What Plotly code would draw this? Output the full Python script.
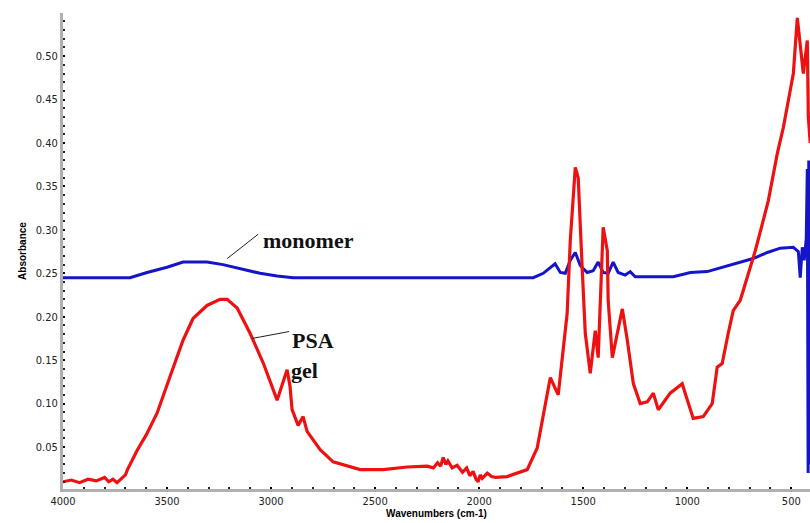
import plotly.graph_objects as go

# PSA gel spectrum (wavenumber cm-1, absorbance)
gel_wn = [4000, 3960, 3920, 3880, 3840, 3800, 3780, 3760, 3740, 3720, 3700, 3690,
          3644, 3600, 3548, 3486, 3423, 3375, 3308, 3245, 3211, 3163, 3101, 3038, 2971,
          2923, 2909, 2899, 2870, 2846, 2827, 2764, 2702, 2572, 2461, 2346, 2250,
          2220, 2200, 2185, 2173, 2160, 2150, 2130, 2106, 2080, 2060, 2045, 2029, 2015,
          2005, 1995, 1985, 1961, 1940, 1920, 1865, 1769,
          1721, 1658, 1620, 1577, 1562, 1538, 1524, 1505, 1490, 1466, 1442, 1428,
          1418, 1404, 1384, 1380, 1360, 1336, 1312, 1288, 1259, 1226, 1192, 1163,
          1139, 1082, 1024, 1010, 971, 923, 880, 856, 832, 803, 779, 745, 711, 673,
          639, 610, 567, 538, 514, 490, 471, 457, 442, 423, 418, 409]
gel_abs = [0.010, 0.012, 0.009, 0.013, 0.011, 0.015, 0.010, 0.013, 0.009, 0.014, 0.018, 0.024,
           0.046, 0.064, 0.089, 0.131, 0.173, 0.198, 0.213, 0.220, 0.220, 0.210, 0.181, 0.147, 0.104,
           0.139, 0.120, 0.093, 0.075, 0.085, 0.068, 0.047, 0.033, 0.024, 0.024, 0.027, 0.028,
           0.026, 0.032, 0.028, 0.038, 0.030, 0.034, 0.026, 0.029, 0.021, 0.026, 0.017, 0.022, 0.013,
           0.010, 0.018, 0.014, 0.020, 0.016, 0.015, 0.016, 0.024,
           0.049, 0.130, 0.110, 0.204, 0.288, 0.372, 0.360, 0.257, 0.181, 0.135, 0.184, 0.153,
           0.219, 0.303, 0.276, 0.219, 0.153, 0.181, 0.209, 0.173, 0.123, 0.100, 0.102, 0.112,
           0.093, 0.112, 0.123, 0.112, 0.083, 0.085, 0.100, 0.142, 0.146, 0.181, 0.207, 0.219, 0.245, 0.276,
           0.307, 0.334, 0.388, 0.418, 0.449, 0.480, 0.544, 0.514, 0.480, 0.518, 0.430, 0.400]

# Monomer spectrum
mono_wn = [4000, 3678, 3596, 3500, 3423, 3308, 3231, 3149, 3053, 2971, 2894, 1740,
           1692, 1635, 1610, 1586, 1562, 1538, 1514, 1481, 1452, 1428, 1404, 1380,
           1356, 1332, 1298, 1274, 1250, 1067, 985, 904, 827, 745, 683, 615, 553,
           490, 466, 457, 447, 438, 428, 423, 419, 416, 413, 411, 409]
mono_abs = [0.245, 0.245, 0.251, 0.257, 0.263, 0.263, 0.260, 0.255, 0.250, 0.247, 0.245, 0.245,
            0.250, 0.261, 0.251, 0.250, 0.265, 0.274, 0.259, 0.251, 0.253, 0.263, 0.251, 0.250,
            0.263, 0.251, 0.248, 0.252, 0.246, 0.246, 0.251, 0.252, 0.257, 0.263, 0.267, 0.274, 0.279,
            0.280, 0.275, 0.245, 0.280, 0.265, 0.290, 0.370, 0.020, 0.380, 0.030, 0.370, 0.360]

x_ticks = [4000, 3500, 3000, 2500, 2000, 1500, 1000, 500]
x_labels = ["4000", "3500", "3000", "2500", "2000", "1500", "1000", "500"]
y_ticks = [0.05, 0.10, 0.15, 0.20, 0.25, 0.30, 0.35, 0.40, 0.45, 0.50]
y_labels = ["0.05", "0.10", "0.15", "0.20", "0.25", "0.30", "0.35", "0.40", "0.45", "0.50"]

fig = go.Figure()
fig.add_trace(go.Scatter(x=mono_wn, y=mono_abs, mode="lines",
                         line=dict(color="#1414c8", width=3), showlegend=False))
fig.add_trace(go.Scatter(x=gel_wn, y=gel_abs, mode="lines",
                         line=dict(color="#ee1111", width=3.2), showlegend=False))

tickfont = dict(family="Liberation Sans Narrow, DejaVu Sans Condensed, Arial, sans-serif",
                size=11, color="#222")
fig.update_xaxes(range=[4000, 410], tickvals=x_ticks, ticktext=x_labels,
                 showgrid=False, zeroline=False, showline=True, linecolor="#b0b0b0", linewidth=3,
                 ticks="inside", ticklen=2, tickwidth=1.5, tickcolor="#000",
                 minor=dict(dtick=100, tick0=0, ticks="inside", ticklen=2, tickwidth=1.5, tickcolor="#222"),
                 tickfont=tickfont,
                 title=dict(text="<b>Wavenumbers (cm-1)</b>", font=dict(family="Liberation Sans Narrow, Arial", size=10, color="#000"), standoff=2))
fig.update_yaxes(range=[0.0017, 0.5497], tickvals=y_ticks, ticktext=y_labels,
                 showgrid=False, zeroline=False, showline=True, linecolor="#b0b0b0", linewidth=3,
                 ticks="inside", ticklen=2, tickwidth=1.5, tickcolor="#000",
                 minor=dict(dtick=0.01, tick0=0, ticks="inside", ticklen=2, tickwidth=1.5, tickcolor="#222"),
                 tickfont=tickfont,
                 title=dict(text="<b>Absorbance</b>", font=dict(family="Liberation Sans Narrow, Arial", size=10, color="#000"), standoff=8))

serif = dict(family="Liberation Serif, Times New Roman, serif", size=22, color="#111")
fig.add_annotation(x=2822, y=0.288, text="<b>monomer</b>", showarrow=False, font=serif)
fig.add_annotation(x=2798, y=0.173, text="<b>PSA</b>", showarrow=False, font=serif)
fig.add_annotation(x=2837, y=0.1385, text="<b>gel</b>", showarrow=False, font=serif)
fig.add_shape(type="line", x0=3211, y0=0.267, x1=3062, y1=0.295, line=dict(color="#222", width=1))
fig.add_shape(type="line", x0=3091, y0=0.175, x1=2913, y1=0.183, line=dict(color="#222", width=1))

fig.update_layout(width=810, height=523, margin=dict(l=63, r=0, t=13, b=34),
                  plot_bgcolor="white", paper_bgcolor="white")
fig.write_html("out.html")
